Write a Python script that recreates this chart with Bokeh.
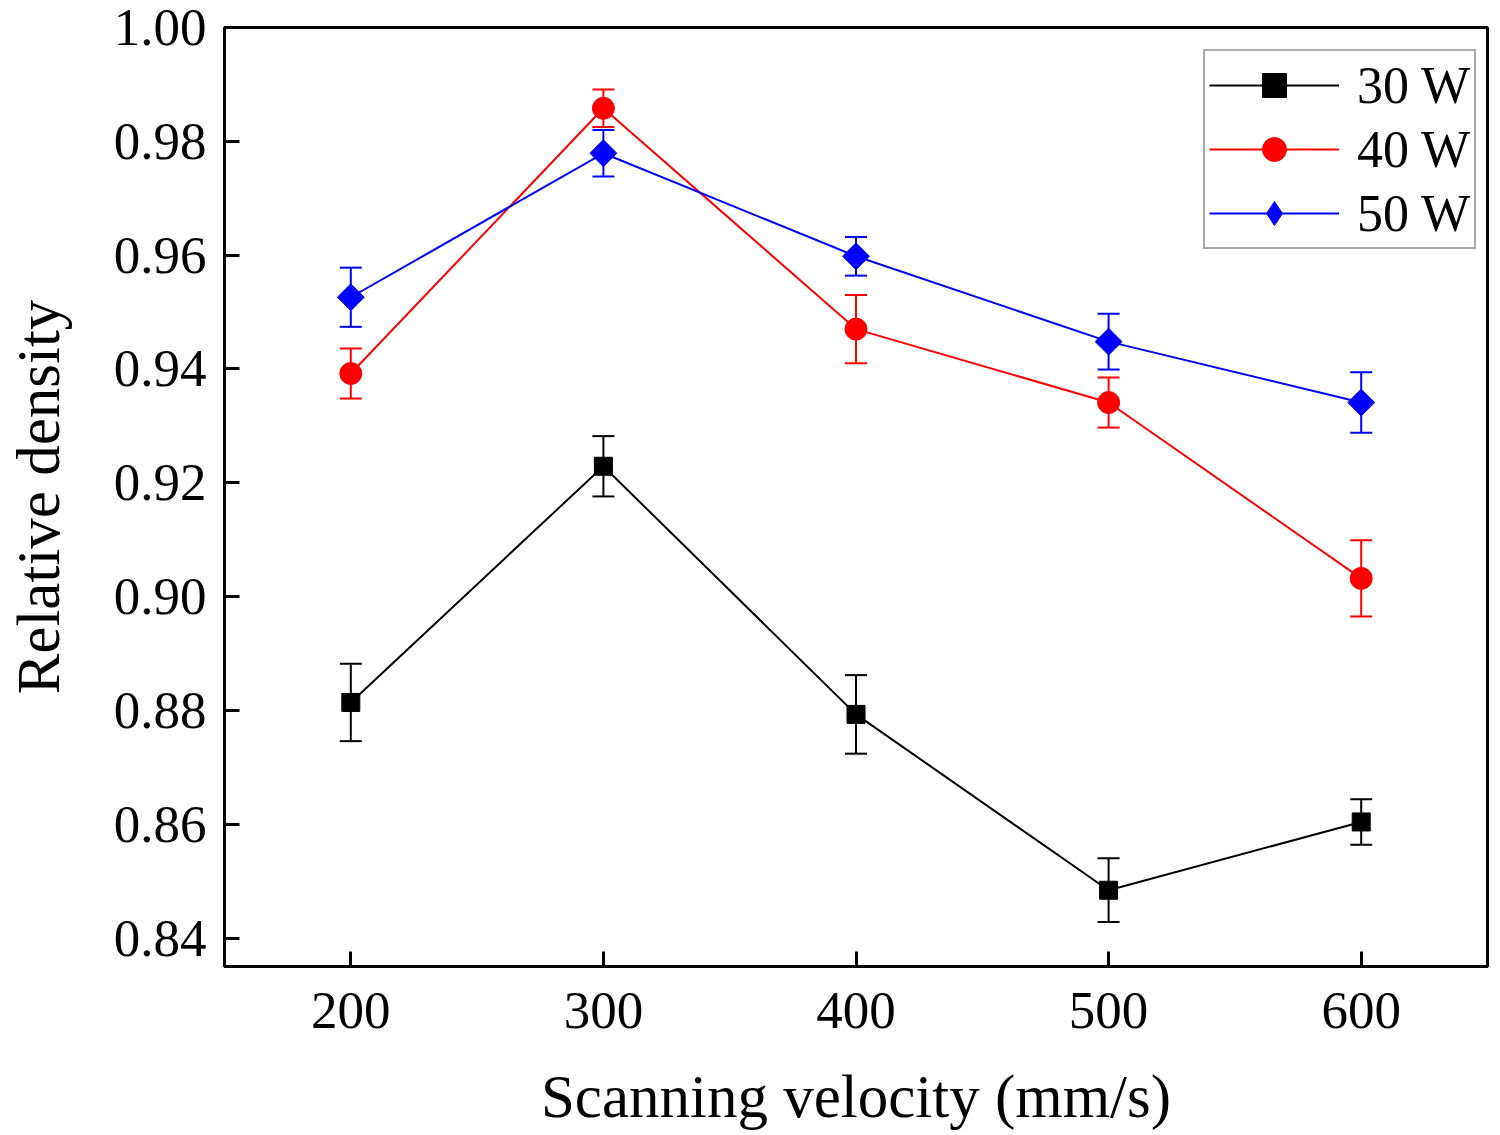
from bokeh.plotting import figure
from bokeh.models import ColumnDataSource, Range1d, FixedTicker, NumeralTickFormatter, Whisker, TeeHead, Legend
from bokeh.embed import file_html
from bokeh.resources import INLINE

# Data
velocity = [200, 300, 400, 500, 600]
d30 = [0.8814, 0.9229, 0.8793, 0.8484, 0.8604]
e30 = [0.0068, 0.0053, 0.0069, 0.0056, 0.0040]
d40 = [0.9392, 0.9858, 0.9470, 0.9341, 0.9032]
e40 = [0.0044, 0.0033, 0.0060, 0.0044, 0.0067]
d50 = [0.9526, 0.9779, 0.9598, 0.9448, 0.9341]
e50 = [0.0052, 0.0041, 0.0034, 0.0049, 0.0053]
y_ticks = [0.84, 0.86, 0.88, 0.90, 0.92, 0.94, 0.96, 0.98, 1.00]

FONT = "Liberation Serif"

p = figure(frame_width=1263, frame_height=939, min_border_left=224, min_border_top=27,
           min_border_right=4, min_border_bottom=160,
           x_range=Range1d(150, 650), y_range=Range1d(0.835, 1.0),
           output_backend="svg", toolbar_location=None)
p.xgrid.grid_line_color = None
p.ygrid.grid_line_color = None
p.outline_line_color = "black"
p.outline_line_width = 3
p.outline_line_alpha = 1

# label, values, errors, colour, marker, size, angle, legend marker
series = [
    ("30 W", d30, e30, "black", "square", 18, 0, None),
    ("40 W", d40, e40, "#ff0000", "circle", 22, 0, None),
    ("50 W", d50, e50, "#0000ff", "square", 19, 0.785398, "diamond"),
]

items = []
for label, d, e, color, marker, size, ang, leg_marker in series:
    src = ColumnDataSource(data={
        'x': velocity, 'y': d,
        'lo': [v - err for v, err in zip(d, e)],
        'hi': [v + err for v, err in zip(d, e)],
    })
    ln = p.line('x', 'y', source=src, line_color=color, line_width=2)
    w = Whisker(base='x', lower='lo', upper='hi', source=src, line_color=color, line_width=2,
                upper_head=TeeHead(size=22, line_color=color, line_width=2),
                lower_head=TeeHead(size=22, line_color=color, line_width=2))
    p.add_layout(w)
    leg = None
    if leg_marker:
        # legend ignores marker angle, so a small diamond (hidden under the
        # rotated squares) stands in for the legend entry
        leg = p.scatter('x', 'y', source=src, marker=leg_marker, size=18,
                        fill_color=color, line_color=color)
    sc = p.scatter('x', 'y', source=src, marker=marker, size=size, angle=ang,
                   fill_color=color, line_color=color)
    items.append((label, [ln, leg or sc]))

legend = Legend(items=items, location=(979, 717), margin=0)
legend.label_text_font = FONT
legend.label_text_font_size = "52px"
legend.label_text_color = "black"
legend.glyph_width = 130
legend.glyph_height = 60
legend.label_height = 57
legend.spacing = 4
legend.padding = 4
legend.label_standoff = 18
legend.border_line_color = "#555555"
legend.border_line_width = 2
legend.background_fill_alpha = 1
p.add_layout(legend)

for ax in (p.xaxis, p.yaxis):
    ax.axis_line_width = 3
    ax.axis_line_color = "black"
    ax.major_tick_line_width = 3
    ax.major_tick_in = 15
    ax.major_tick_out = 0
    ax.minor_tick_line_color = None
    ax.major_label_text_font = FONT
    ax.major_label_text_font_size = "53px"
    ax.major_label_text_color = "black"
    ax.axis_label_text_font = FONT
    ax.axis_label_text_font_size = "61px"
    ax.axis_label_text_font_style = "normal"
    ax.axis_label_text_color = "black"

p.xaxis.ticker = FixedTicker(ticks=velocity)
p.yaxis.ticker = FixedTicker(ticks=y_ticks)
p.yaxis.formatter = NumeralTickFormatter(format="0.00")
p.xaxis.axis_label = "Scanning velocity (mm/s)"
p.yaxis.axis_label = "Relative density"
p.xaxis.major_label_standoff = 26
p.yaxis.major_label_standoff = 18
p.xaxis.axis_label_standoff = 32
p.yaxis.axis_label_standoff = 39

open("out.html", "w").write(file_html(p, INLINE))
